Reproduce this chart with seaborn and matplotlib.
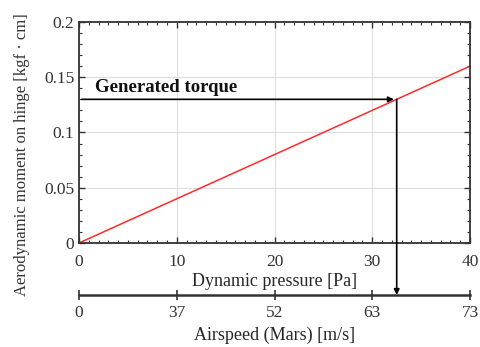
import numpy as np
import seaborn as sns
import matplotlib.pyplot as plt
from matplotlib.ticker import MultipleLocator

# data
pressure = [0, 40]            # Pa
moment = [0, 0.16]            # kgf cm
torque = 0.13
torque_pressure = 32.5
pressure_ticks = [0, 10, 20, 30, 40]
airspeed_labels = ["0", "37", "52", "63", "73"]

sns.set_theme(style="white")
plt.rcParams["font.family"] = ["Liberation Serif", "DejaVu Serif"]

fig = plt.figure(figsize=(4.8, 3.47), dpi=100)
ax = fig.add_axes([0.1646, 0.2997, 0.8146, 0.637])

sns.lineplot(x=pressure, y=moment, color="#ff2a2a", linewidth=1.1, ax=ax)

ax.set_xlim(0, 40)
ax.set_ylim(0, 0.2)
ax.set_xticks(pressure_ticks)
ax.set_yticks([0, 0.05, 0.1, 0.15, 0.2])
ax.set_yticklabels(["0", "0.05", "0.1", "0.15", "0.2"])
ax.xaxis.set_minor_locator(MultipleLocator(1))
ax.yaxis.set_minor_locator(MultipleLocator(0.01))
ax.tick_params(which="both", direction="in", bottom=True, left=True, top=True, right=True,
               labelsize=12.5, colors="#333333")
ax.tick_params(which="major", length=4, width=1)
ax.tick_params(which="minor", length=2.5, width=0.8)
ax.tick_params(axis="x", pad=8)
ax.grid(True, color="#dddddd", linewidth=0.8)
for s in ax.spines.values():
    s.set_color("#333333")
    s.set_linewidth(1.3)
ax.set_xlabel("Dynamic pressure [Pa]", fontsize=13, labelpad=2)
ax.set_ylabel("Aerodynamic moment on hinge [kgf · cm]", fontsize=12, color="#333333")
ax.yaxis.set_label_coords(-0.125, 0.40)

# second axis: airspeed
ax2 = fig.add_axes([0.1646, 0.1499, 0.8146, 0.0001])
ax2.set_xlim(0, 40)
ax2.set_ylim(0, 1)
ax2.set_xticks(pressure_ticks)
ax2.set_xticklabels(airspeed_labels)
ax2.set_yticks([])
for k in ["top", "left", "right"]:
    ax2.spines[k].set_visible(False)
ax2.spines["bottom"].set_color("#333333")
ax2.spines["bottom"].set_linewidth(1.8)
ax2.set_facecolor("none")
ax2.tick_params(axis="x", direction="inout", bottom=True, length=7, width=1.2,
                labelsize=12.5, colors="#333333", pad=4)
ax2.set_xlabel("Airspeed (Mars) [m/s]", fontsize=13, labelpad=4)

# arrows
ax.annotate("", xy=(torque_pressure, torque), xytext=(0, torque),
            arrowprops=dict(arrowstyle="-|>", color="black", lw=1.2, mutation_scale=8),
            annotation_clip=False)
ax.annotate("", xy=(torque_pressure, 0), xycoords=ax2.transData,
            xytext=(torque_pressure, torque), textcoords=ax.transData,
            arrowprops=dict(arrowstyle="-|>", color="black", lw=1.2, mutation_scale=8,
                            shrinkA=0, shrinkB=0),
            annotation_clip=False)
ax.text(1.6, 0.1405, "Generated torque", fontsize=13.5, fontweight="bold",
        va="center", ha="left", color="#111111")

fig.savefig("out.png", dpi=100)
